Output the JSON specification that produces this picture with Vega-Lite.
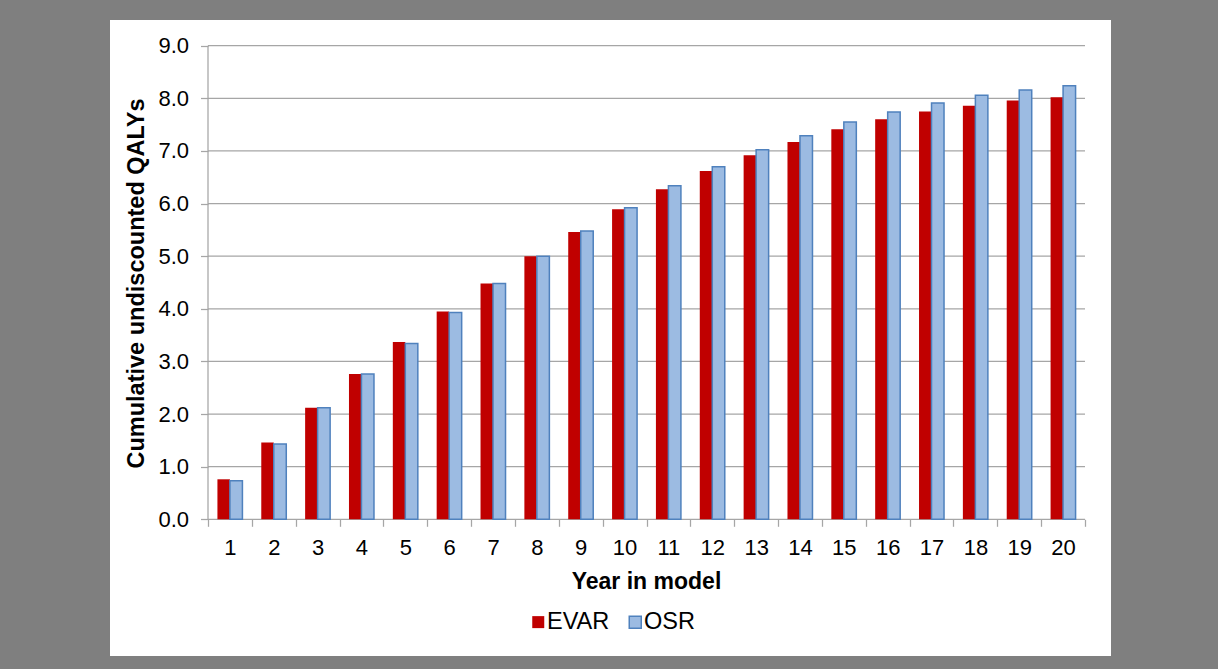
{
  "$schema": "https://vega.github.io/schema/vega-lite/v6.json",
  "width": 1001,
  "height": 636,
  "autosize": {"type": "none"},
  "padding": {"left": 110, "top": 20, "right": 107, "bottom": 13},
  "background": "#7F7F7F",
  "config": {
    "view": {"fill": "#FFFFFF", "stroke": null},
    "font": "Liberation Sans",
    "axisX": {
      "offset": -136.7, "domain": false, "grid": false, "tickBand": "extent",
      "tickColor": "#A6A6A6", "tickSize": 7, "tickWidth": 1.25,
      "labelFont": "Liberation Sans", "labelFontSize": 22, "labelColor": "#000000", "labelPadding": 11, "labelAngle": 0,
      "titleFont": "Liberation Sans", "titleFontSize": 23, "titleFontWeight": "bold", "titleColor": "#000000",
      "titleX": 536, "titleY": 51.5
    },
    "axisY": {
      "offset": -98, "domain": false, "grid": false,
      "tickColor": "#A6A6A6", "tickSize": 7.5, "tickWidth": 1.25,
      "labelFont": "Liberation Sans", "labelFontSize": 22, "labelColor": "#000000", "labelPadding": 12,
      "titleFont": "Liberation Sans", "titleFontSize": 23.5, "titleFontWeight": "bold", "titleColor": "#000000",
      "titleX": -60, "titleY": 263
    },
    "legend": {
      "orient": "none", "legendX": 416.5, "legendY": 590, "direction": "horizontal",
      "padding": 0, "title": null, "symbolType": "square", "symbolSize": 144, "symbolStrokeWidth": 1.5,
      "labelFont": "Liberation Sans", "labelFontSize": 23.5, "labelColor": "#000000", "labelOffset": -3, "columnPadding": 14
    }
  },
  "datasets": {
    "qaly": [
      {"year": 1, "series": "EVAR", "value": 0.76}, {"year": 1, "series": "OSR", "value": 0.73},
      {"year": 2, "series": "EVAR", "value": 1.46}, {"year": 2, "series": "OSR", "value": 1.43},
      {"year": 3, "series": "EVAR", "value": 2.12}, {"year": 3, "series": "OSR", "value": 2.12},
      {"year": 4, "series": "EVAR", "value": 2.76}, {"year": 4, "series": "OSR", "value": 2.76},
      {"year": 5, "series": "EVAR", "value": 3.37}, {"year": 5, "series": "OSR", "value": 3.34},
      {"year": 6, "series": "EVAR", "value": 3.95}, {"year": 6, "series": "OSR", "value": 3.93},
      {"year": 7, "series": "EVAR", "value": 4.48}, {"year": 7, "series": "OSR", "value": 4.48},
      {"year": 8, "series": "EVAR", "value": 5.0}, {"year": 8, "series": "OSR", "value": 5.0},
      {"year": 9, "series": "EVAR", "value": 5.46}, {"year": 9, "series": "OSR", "value": 5.48},
      {"year": 10, "series": "EVAR", "value": 5.89}, {"year": 10, "series": "OSR", "value": 5.92},
      {"year": 11, "series": "EVAR", "value": 6.27}, {"year": 11, "series": "OSR", "value": 6.34},
      {"year": 12, "series": "EVAR", "value": 6.62}, {"year": 12, "series": "OSR", "value": 6.70},
      {"year": 13, "series": "EVAR", "value": 6.92}, {"year": 13, "series": "OSR", "value": 7.02},
      {"year": 14, "series": "EVAR", "value": 7.17}, {"year": 14, "series": "OSR", "value": 7.29},
      {"year": 15, "series": "EVAR", "value": 7.41}, {"year": 15, "series": "OSR", "value": 7.55},
      {"year": 16, "series": "EVAR", "value": 7.60}, {"year": 16, "series": "OSR", "value": 7.74},
      {"year": 17, "series": "EVAR", "value": 7.75}, {"year": 17, "series": "OSR", "value": 7.91},
      {"year": 18, "series": "EVAR", "value": 7.86}, {"year": 18, "series": "OSR", "value": 8.06},
      {"year": 19, "series": "EVAR", "value": 7.96}, {"year": 19, "series": "OSR", "value": 8.16},
      {"year": 20, "series": "EVAR", "value": 8.02}, {"year": 20, "series": "OSR", "value": 8.24}
    ],
    "grid": [{"v": 0}, {"v": 1}, {"v": 2}, {"v": 3}, {"v": 4}, {"v": 5}, {"v": 6}, {"v": 7}, {"v": 8}, {"v": 9}],
    "yaxis": [{"lo": 0, "hi": 9}]
  },
  "layer": [
    {
      "data": {"name": "grid"},
      "mark": {"type": "rule", "color": "#A6A6A6", "strokeWidth": 1.25},
      "encoding": {
        "y": {"field": "v", "type": "quantitative", "title": "Cumulative undiscounted QALYs",
              "axis": {"values": [0,1,2,3,4,5,6,7,8,9], "format": ".1f"},
              "scale": {"domain": [-2.598, 9.488], "nice": false, "zero": false}},
        "x": {"datum": 1, "type": "ordinal", "bandPosition": 0, "title": "Year in model",
              "scale": {"domain": [1,2,3,4,5,6,7,8,9,10,11,12,13,14,15,16,17,18,19,20], "type": "band", "paddingInner": 0, "paddingOuter": 0, "range": [98, 975]}},
        "x2": {"datum": 20, "bandPosition": 1}
      }
    },
    {
      "data": {"name": "yaxis"},
      "mark": {"type": "rule", "color": "#A6A6A6", "strokeWidth": 1.25},
      "encoding": {
        "x": {"datum": 1, "type": "ordinal", "bandPosition": 0, "title": "Year in model"},
        "y": {"field": "lo", "type": "quantitative", "title": "Cumulative undiscounted QALYs"},
        "y2": {"field": "hi"}
      }
    },
    {
      "data": {"name": "qaly"},
      "mark": {"type": "bar", "strokeWidth": 1.5},
      "encoding": {
        "x": {"field": "year", "type": "ordinal", "title": "Year in model"},
        "xOffset": {"field": "series", "type": "nominal", "scale": {"paddingInner": 0, "paddingOuter": 0.754}},
        "y": {"field": "value", "type": "quantitative", "title": "Cumulative undiscounted QALYs"},
        "fill": {"field": "series", "type": "nominal", "scale": {"domain": ["EVAR", "OSR"], "range": ["#C00000", "#9CBBE2"]}},
        "stroke": {"field": "series", "type": "nominal", "scale": {"domain": ["EVAR", "OSR"], "range": ["transparent", "#4F81BD"]}}
      }
    }
  ]
}
